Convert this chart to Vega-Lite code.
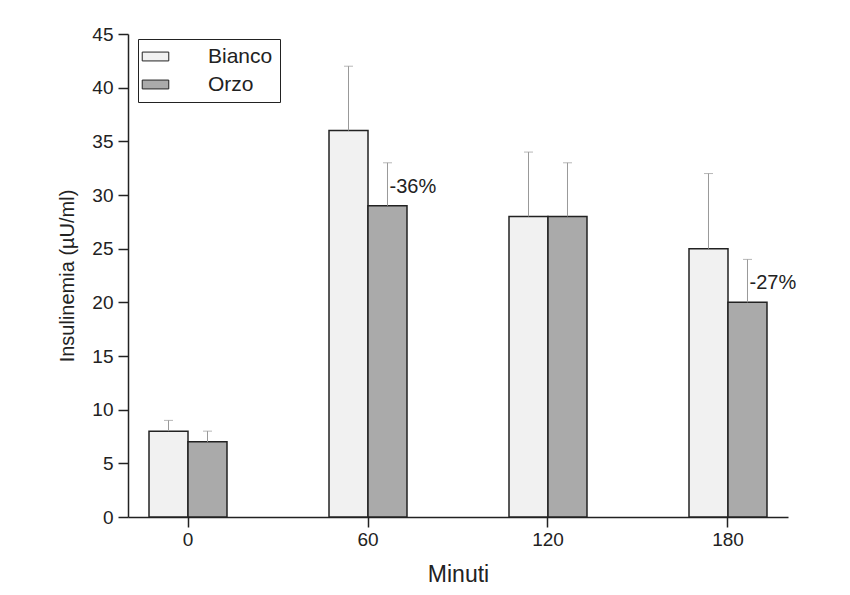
{
  "$schema": "https://vega.github.io/schema/vega-lite/v6.json",
  "width": 660,
  "height": 483,
  "autosize": {"type": "none"},
  "padding": {"left": 128, "top": 34, "right": 62, "bottom": 78},
  "background": "white",
  "config": {"view": {"stroke": null}, "font": "Liberation Sans"},
  "data": {
    "values": [
      {"minute": 0, "group": "Bianco", "value": 8, "upper": 9, "label": null},
      {"minute": 0, "group": "Orzo", "value": 7, "upper": 8, "label": null},
      {"minute": 60, "group": "Bianco", "value": 36, "upper": 42, "label": null},
      {"minute": 60, "group": "Orzo", "value": 29, "upper": 33, "label": "-36%"},
      {"minute": 120, "group": "Bianco", "value": 28, "upper": 34, "label": null},
      {"minute": 120, "group": "Orzo", "value": 28, "upper": 33, "label": null},
      {"minute": 180, "group": "Bianco", "value": 25, "upper": 32, "label": null},
      {"minute": 180, "group": "Orzo", "value": 20, "upper": 24, "label": "-27%"}
    ]
  },
  "encoding": {
    "x": {
      "field": "minute",
      "type": "ordinal",
      "sort": [0, 60, 120, 180],
      "scale": {"paddingInner": 0.5667, "paddingOuter": 0.1167},
      "title": "Minuti",
      "axis": {
        "labelAngle": 0,
        "tickSize": 10,
        "tickWidth": 1.5,
        "tickColor": "#222",
        "domainColor": "#222",
        "domainWidth": 1.5,
        "labelFontSize": 19,
        "labelColor": "#222",
        "labelPadding": 3,
        "titleFontSize": 23,
        "titleFontWeight": "normal",
        "titleColor": "#222",
        "titlePadding": 14
      }
    },
    "xOffset": {
      "field": "group",
      "type": "nominal",
      "sort": ["Bianco", "Orzo"],
      "scale": {"paddingInner": 0, "paddingOuter": 0}
    }
  },
  "layer": [
    {
      "mark": {"type": "bar", "stroke": "#222", "strokeWidth": 1.5},
      "encoding": {
        "y": {
          "field": "value",
          "type": "quantitative",
          "scale": {"domain": [0, 45], "nice": false},
          "title": "Insulinemia (µU/ml)",
          "axis": {
            "values": [0, 2.5, 5, 7.5, 10, 12.5, 15, 17.5, 20, 22.5, 25, 27.5, 30, 32.5, 35, 37.5, 40, 42.5, 45],
            "labelExpr": "datum.value % 5 === 0 ? datum.label : ''",
            "tickSize": {"condition": {"test": "datum.value % 5 === 0", "value": 10}, "value": 6},
            "tickWidth": 1.5,
            "tickColor": "#222",
            "domainColor": "#222",
            "domainWidth": 1.5,
            "grid": false,
            "labelFontSize": 19,
            "labelColor": "#222",
            "labelPadding": 5,
            "titleFontSize": 20,
            "titleFontWeight": "normal",
            "titleColor": "#222",
            "titlePadding": 14
          }
        },
        "fill": {
          "field": "group",
          "type": "nominal",
          "scale": {"domain": ["Bianco", "Orzo"], "range": ["#f1f1f1", "#aaaaaa"]},
          "legend": {
            "title": null,
            "orient": "none",
            "legendX": 10,
            "legendY": 5,
            "strokeColor": "#222",
            "fillColor": "white",
            "padding": 7,
            "symbolType": "M-1.5,-0.5H1.5V0.5H-1.5Z",
            "symbolSize": 313,
            "symbolStrokeColor": "#222",
            "symbolStrokeWidth": 1,
            "labelFontSize": 21,
            "labelColor": "#222",
            "labelOffset": 42,
            "rowPadding": 6
          }
        }
      }
    },
    {
      "mark": {"type": "rule", "color": "#999", "strokeWidth": 1},
      "encoding": {
        "y": {"field": "value", "type": "quantitative"},
        "y2": {"field": "upper"}
      }
    },
    {
      "mark": {"type": "tick", "color": "#999", "size": 9, "thickness": 1},
      "encoding": {
        "y": {"field": "upper", "type": "quantitative"}
      }
    },
    {
      "transform": [{"filter": "datum.label != null"}],
      "mark": {"type": "text", "align": "left", "baseline": "middle", "dx": 2, "dy": -19, "fontSize": 20, "color": "#222"},
      "encoding": {
        "y": {"field": "value", "type": "quantitative"},
        "text": {"field": "label"}
      }
    }
  ]
}
